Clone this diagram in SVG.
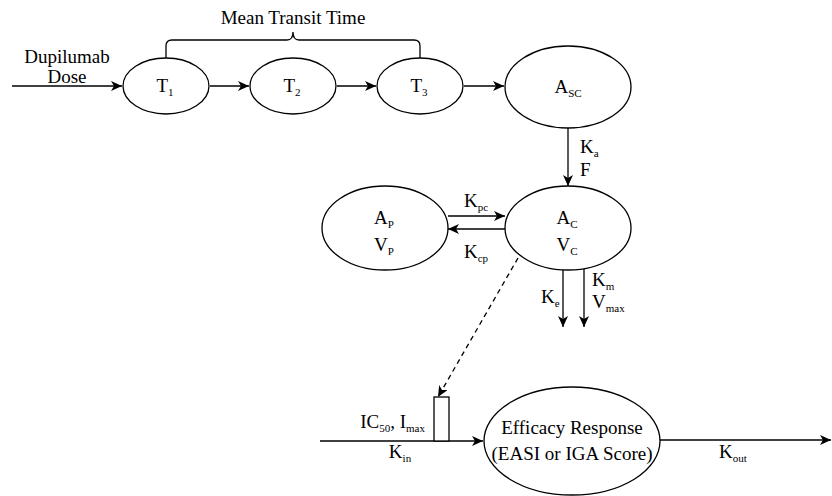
<svg xmlns="http://www.w3.org/2000/svg" width="832" height="496" viewBox="0 0 832 496" font-family="'Liberation Serif', 'Times New Roman', serif">
<style>
.n{fill:#fff;stroke:#000;stroke-width:1.3}
.c{fill:none;stroke:#000;stroke-width:1.3}
text{font-family:"Liberation Serif","Times New Roman",serif;font-size:19px;fill:#000}
.m{text-anchor:middle}
.e{text-anchor:end}
.s{font-size:11px}
</style>
<defs>
<marker id="a" markerWidth="12" markerHeight="10" refX="11" refY="5" orient="auto" markerUnits="userSpaceOnUse">
<path d="M0,0 L11,5 L0,10 L3,5 Z" fill="#000"/>
</marker>
</defs>
<rect width="832" height="496" fill="#fff"/>
<g id="connectors">
<line class="c" x1="12" y1="86" x2="122" y2="86" marker-end="url(#a)"/>
<line class="c" x1="210" y1="86" x2="249" y2="86" marker-end="url(#a)"/>
<line class="c" x1="337" y1="86" x2="376" y2="86" marker-end="url(#a)"/>
<line class="c" x1="464" y1="86" x2="504" y2="86" marker-end="url(#a)"/>
<line class="c" x1="568" y1="128" x2="568" y2="186" marker-end="url(#a)"/>
<line class="c" x1="448" y1="216" x2="505" y2="216" marker-end="url(#a)"/>
<line class="c" x1="505" y1="229" x2="448" y2="229" marker-end="url(#a)"/>
<line class="c" x1="563" y1="269" x2="563" y2="327" marker-end="url(#a)"/>
<line class="c" x1="584" y1="269" x2="584" y2="327" marker-end="url(#a)"/>
<line class="c" x1="518" y1="258" x2="438" y2="397" stroke-dasharray="5,4" marker-end="url(#a)"/>
<line class="c" x1="320" y1="441" x2="483" y2="441" marker-end="url(#a)"/>
<line class="c" x1="660" y1="440" x2="831" y2="440" marker-end="url(#a)"/>
<path class="c" d="M166,60 V46 Q166,40 172,40 H287 Q293,40 293,32 Q293,40 299,40 H414 Q420,40 420,46 V60"/>
</g>
<g id="label-mtt"><text class="m" x="293" y="24">Mean Transit Time</text></g>
<g id="label-dose"><text class="m" x="67" y="63">Dupilumab</text><text class="m" x="67" y="83">Dose</text></g>
<g id="T1"><ellipse class="n" cx="166" cy="86" rx="43" ry="28"/><text class="m" x="165" y="92">T<tspan class="s" dy="4">1</tspan></text></g>
<g id="T2"><ellipse class="n" cx="293" cy="86" rx="43" ry="28"/><text class="m" x="292" y="92">T<tspan class="s" dy="4">2</tspan></text></g>
<g id="T3"><ellipse class="n" cx="420" cy="86" rx="43" ry="28"/><text class="m" x="419" y="92">T<tspan class="s" dy="4">3</tspan></text></g>
<g id="ASC"><ellipse class="n" cx="568" cy="87" rx="63" ry="41"/><text class="m" x="568" y="93">A<tspan class="s" dy="4">SC</tspan></text></g>
<g id="label-ka"><text x="580" y="153">K<tspan class="s" dy="4">a</tspan></text><text x="580" y="176">F</text></g>
<g id="AC"><ellipse class="n" cx="568" cy="228" rx="63" ry="42"/><text class="m" x="567" y="224">A<tspan class="s" dy="4">C</tspan></text><text class="m" x="567" y="251">V<tspan class="s" dy="4">C</tspan></text></g>
<g id="AP"><ellipse class="n" cx="385" cy="228" rx="63" ry="42"/><text class="m" x="384" y="224">A<tspan class="s" dy="4">P</tspan></text><text class="m" x="384" y="251">V<tspan class="s" dy="4">P</tspan></text></g>
<g id="label-kpc"><text class="m" x="476" y="207">K<tspan class="s" dy="4">pc</tspan></text></g>
<g id="label-kcp"><text class="m" x="476" y="258">K<tspan class="s" dy="4">cp</tspan></text></g>
<g id="label-ke"><text x="541" y="303">K<tspan class="s" dy="4">e</tspan></text></g>
<g id="label-km"><text x="592" y="286">K<tspan class="s" dy="4">m</tspan></text><text x="592" y="308">V<tspan class="s" dy="4">max</tspan></text></g>
<g id="inhib"><rect class="n" x="434" y="397" width="15" height="44"/></g>
<g id="label-ic"><text class="e" x="425" y="428">IC<tspan class="s" dy="4">50</tspan><tspan dy="-4">, I</tspan><tspan class="s" dy="4">max</tspan></text></g>
<g id="label-kin"><text class="m" x="400" y="458">K<tspan class="s" dy="4">in</tspan></text></g>
<g id="Efficacy"><ellipse class="n" cx="572" cy="441" rx="88" ry="54"/><text class="m" x="572" y="434">Efficacy Response</text><text class="m" x="572" y="460">(EASI or IGA Score)</text></g>
<g id="label-kout"><text class="m" x="733" y="458">K<tspan class="s" dy="4">out</tspan></text></g>
</svg>
